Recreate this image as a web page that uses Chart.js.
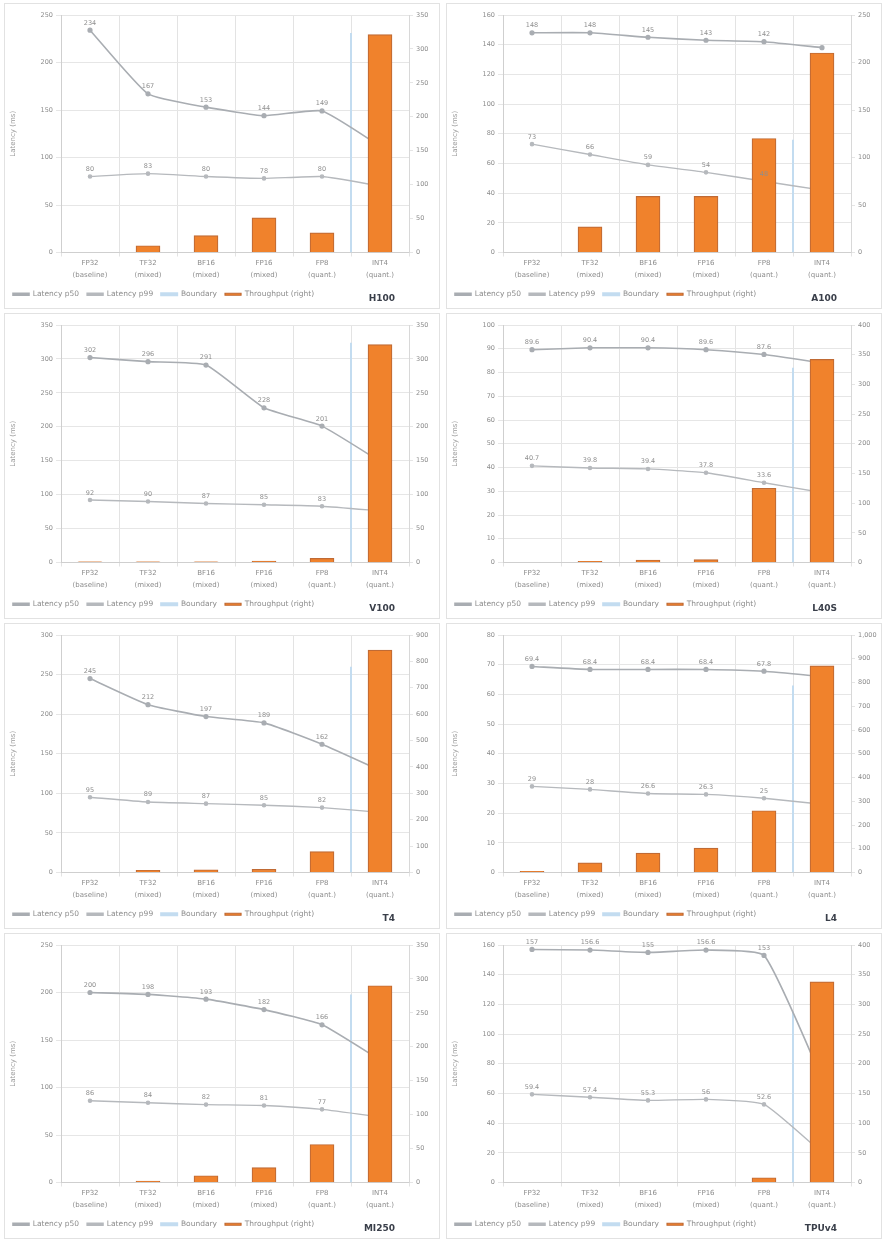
<!DOCTYPE html>
<html>
<head>
<meta charset="utf-8">
<script src="https://cdn.jsdelivr.net/npm/chart.js@4.4.1/dist/chart.umd.min.js"></script>
<style>
  html,body{margin:0;padding:0;background:#fff;}
  body{width:885px;height:1242px;position:relative;font-family:"DejaVu Sans",sans-serif;overflow:hidden;}
  .panel{position:absolute;width:434px;height:304px;border:1px solid #e2e2e2;background:#fff;overflow:hidden;}
  .panel canvas{position:absolute;left:0;top:0;}
  .tag{position:absolute;right:44px;bottom:5px;font:bold 9px "DejaVu Sans",sans-serif;color:#3a3f4a;}
</style>
</head>
<body>
<script>
// ---------- data ----------
const catTop    = ["FP32", "TF32", "BF16", "FP16", "FP8", "INT4"];
const catBottom = ["(baseline)", "(mixed)", "(mixed)", "(mixed)", "(quant.)", "(quant.)"];
const tags      = ["H100", "A100", "V100", "L40S", "T4", "L4", "MI250", "TPUv4"];
const seriesNames = ["Latency p50", "Latency p99", "Boundary", "Throughput (right)"];
const leftTitle = "Latency (ms)";

const leftMax   = [250, 160, 350, 100, 300, 80, 250, 160];
const leftStep  = [50, 20, 50, 10, 50, 10, 50, 20];
const rightMax  = [350, 250, 350, 400, 900, 1000, 350, 400];
const rightStep = [50, 50, 50, 50, 100, 100, 50, 50];

const p1Bars  = [0, 10, 25, 51, 29, 321];
const p1Line1 = [234, 167, 153, 144, 149, 112];
const p1Line2 = [80, 83, 80, 78, 80, 70];
const p2Bars  = [0, 27, 59, 59, 120, 210];
const p2Line1 = [148, 148, 145, 143, 142, 138];
const p2Line2 = [73, 66, 59, 54, 48, 42];
const p3Bars  = [1, 1, 1, 2, 6, 321];
const p3Line1 = [302, 296, 291, 228, 201, 149];
const p3Line2 = [92, 90, 87, 85, 83, 76];
const p4Bars  = [0, 2, 4, 5, 125, 342];
const p4Line1 = [89.6, 90.4, 90.4, 89.6, 87.6, 84];
const p4Line2 = [40.7, 39.8, 39.4, 37.8, 33.6, 29.5];
const p5Bars  = [0, 8, 10, 12, 79, 843];
const p5Line1 = [245, 212, 197, 189, 162, 129];
const p5Line2 = [95, 89, 87, 85, 82, 76];
const p6Bars  = [5, 41, 82, 103, 260, 870];
const p6Line1 = [69.4, 68.4, 68.4, 68.4, 67.8, 66];
const p6Line2 = [29, 28, 26.6, 26.3, 25, 23];
const p7Bars  = [0, 2, 10, 22, 56, 290];
const p7Line1 = [200, 198, 193, 182, 166, 129];
const p7Line2 = [86, 84, 82, 81, 77, 69];
const p8Bars  = [0, 0, 0, 0, 8, 338];
const p8Line1 = [157, 156.6, 155, 156.6, 153, 70];
const p8Line2 = [59.4, 57.4, 55.3, 56, 52.6, 20];
const boundary = [231, 76, 324, 82, 260, 63, 198, 115];
const boundaryPos = 4.5;

const allBars  = [p1Bars, p2Bars, p3Bars, p4Bars, p5Bars, p6Bars, p7Bars, p8Bars];
const allLine1 = [p1Line1, p2Line1, p3Line1, p4Line1, p5Line1, p6Line1, p7Line1, p8Line1];
const allLine2 = [p1Line2, p2Line2, p3Line2, p4Line2, p5Line2, p6Line2, p7Line2, p8Line2];

// ---------- rendering ----------
const FONT = '"DejaVu Sans", sans-serif';
const TXT = '#8c8c8c';

const pointLabels = {
  id: 'pointLabels',
  afterDatasetsDraw(chart) {
    const ctx = chart.ctx;
    chart.data.datasets.forEach((ds, di) => {
      if (!ds.showValues) return;
      const meta = chart.getDatasetMeta(di);
      meta.data.forEach((el, i) => {
        if (i > 4) return;
        const v = ds.data[i];
        ctx.save();
        ctx.font = '6.5px ' + FONT;
        ctx.fillStyle = '#8e8e8e';
        ctx.textAlign = 'center';
        ctx.textBaseline = 'bottom';
        ctx.fillText(Number.isInteger(v) ? String(v) : v.toFixed(1), el.x, el.y - 4);
        ctx.restore();
      });
    });
  }
};

function makePanel(i) {
  const col = i % 2, row = Math.floor(i / 2);
  const div = document.createElement('div');
  div.className = 'panel';
  div.style.left = (col === 0 ? 4 : 446) + 'px';
  div.style.top = (3 + row * 310) + 'px';
  const cv = document.createElement('canvas');
  cv.width = 434; cv.height = 304;
  cv.style.width = '434px'; cv.style.height = '304px';
  div.appendChild(cv);
  const tag = document.createElement('div');
  tag.className = 'tag';
  tag.textContent = tags[i];
  div.appendChild(tag);
  document.body.appendChild(div);

  const labels = catTop.map((t, k) => [t, catBottom[k]]);
  new Chart(cv, {
    type: 'bar',
    data: {
      labels,
      datasets: [
        { type: 'bar', label: seriesNames[3], data: allBars[i], yAxisID: 'y1', xAxisID: 'x', order: 0,
          grouped: false, barThickness: 24, maxBarThickness: 24,
          backgroundColor: '#f0822c', borderColor: '#c06a34', borderWidth: 1.2 },
        { type: 'line', label: seriesNames[0], data: allLine1[i], yAxisID: 'y', xAxisID: 'x', order: 1,
          borderColor: '#a9adb2', backgroundColor: '#a9adb2', borderWidth: 1.6,
          pointRadius: 1.8, pointBackgroundColor: '#a9adb2', tension: 0.15, showValues: true },
        { type: 'line', label: seriesNames[1], data: allLine2[i], yAxisID: 'y', xAxisID: 'x', order: 1,
          borderColor: '#b6b9bd', backgroundColor: '#b6b9bd', borderWidth: 1.4,
          pointRadius: 1.6, pointBackgroundColor: '#b6b9bd', tension: 0.15, showValues: true },
        { type: 'line', label: seriesNames[2], xAxisID: 'xm', yAxisID: 'y', order: 2,
          data: [{x: boundaryPos, y: 0}, {x: boundaryPos, y: boundary[i]}],
          borderColor: '#c3dcf0', backgroundColor: '#c3dcf0', borderWidth: 2, pointRadius: 0 }
      ]
    },
    options: {
      responsive: false,
      animation: false,
      devicePixelRatio: 1,
      layout: { padding: { top: 11, left: 0, right: 0, bottom: 0 } },
      plugins: {
        tooltip: { enabled: false },
        legend: {
          position: 'bottom', align: 'start',
          labels: {
            boxWidth: 16, boxHeight: 2, padding: 8,
            font: { size: 7.5, family: FONT }, color: TXT,
            sort: (a, b) => [1, 2, 3, 0].indexOf(a.datasetIndex) - [1, 2, 3, 0].indexOf(b.datasetIndex)
          }
        }
      },
      scales: {
        x: {
          grid: { color: '#e3e3e3', offset: true, tickLength: 4 },
          border: { color: '#cfcfcf' },
          ticks: { font: { size: 7, family: FONT, lineHeight: 1.7 }, color: TXT, maxRotation: 0, autoSkip: false, padding: 1 },
          afterFit(s) { s.height = 30; }
        },
        xm: { type: 'linear', display: false, min: -0.5, max: 5.5, offset: false, grid: { offset: false } },
        y: {
          position: 'left', min: 0, max: leftMax[i],
          ticks: { stepSize: leftStep[i], font: { size: 6.5, family: FONT }, color: TXT, padding: 3 },
          grid: { color: '#e6e6e6', tickLength: 5 },
          border: { color: '#cfcfcf' },
          title: { display: true, text: leftTitle, font: { size: 7, family: FONT }, color: '#9a9a9a', padding: 4 },
          afterFit(s) { s.width = 56; }
        },
        y1: {
          position: 'right', min: 0, max: rightMax[i],
          ticks: { stepSize: rightStep[i], font: { size: 6.5, family: FONT }, color: TXT, padding: 3 },
          grid: { drawOnChartArea: false, tickLength: 4 },
          border: { color: '#d8d8d8' },
          afterFit(s) { s.width = 30; }
        }
      }
    },
    plugins: [pointLabels]
  });
}

for (let i = 0; i < 8; i++) makePanel(i);
</script>
</body>
</html>
